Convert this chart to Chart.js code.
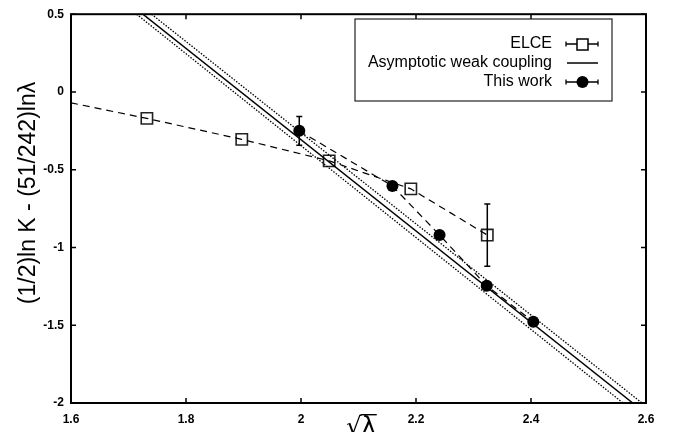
<!DOCTYPE html>
<html>
<head>
<meta charset="utf-8">
<script src="https://cdn.jsdelivr.net/npm/chart.js@4/dist/chart.umd.min.js"></script>
<style>
  html, body { margin: 0; padding: 0; background: #fff; }
  #graf { display: block; }
</style>
</head>
<body>
<canvas id="graf" width="678" height="432"></canvas>
<script>
// ELCE andmed (lahtised ruudud)
const elceX = [1.732, 1.897, 2.049, 2.191, 2.324];
const elceY = [-0.170, -0.305, -0.443, -0.623, -0.920];
const elceErr = [0, 0, 0, 0, 0.2];

// ELCE katkendjoon algab telje servast
const elceLineX = [1.6, 1.732, 1.897, 2.049, 2.191, 2.324];
const elceLineY = [-0.07, -0.170, -0.305, -0.443, -0.623, -0.920];

// Selle töö tulemused (täidetud ringid)
const thisWorkX = [1.997, 2.159, 2.241, 2.323, 2.404];
const thisWorkY = [-0.250, -0.605, -0.920, -1.246, -1.478];
const thisWorkErr = [0.093, 0, 0, 0, 0];

// Asümptootiline nõrga seose sirge ja selle vea piirid
const asymY = [0.5, -2];
const asymX = [1.725, 2.577];
const asymLowX = [1.714, 2.560];
const asymHighX = [1.740, 2.593];

// Telgede jaotused
const xTicks = [1.6, 1.8, 2, 2.2, 2.4, 2.6];
const yTicks = [-2, -1.5, -1, -0.5, 0, 0.5];

const legendLabels = ['ELCE', 'Asymptotic weak coupling', 'This work'];

function punktid(xs, ys) {
    return xs.map((x, i) => ({ x: x, y: ys[i] }));
}

const font = '"Liberation Sans", Arial, Helvetica, sans-serif';

// Veapiirid, raam, sissepoole suunatud jaotised, telgede pealkirjad ja legend
const joonistaLisad = {
    id: 'lisad',
    afterDatasetsDraw(chart) {
        const ctx = chart.ctx;
        const xs = chart.scales.x;
        const ys = chart.scales.y;
        const a = chart.chartArea;

        // vertikaalsed veapiirid
        function veapiir(xv, yv, err) {
            if (!err) return;
            const px = xs.getPixelForValue(xv);
            const y1 = ys.getPixelForValue(yv + err);
            const y2 = ys.getPixelForValue(yv - err);
            ctx.save();
            ctx.strokeStyle = '#000';
            ctx.lineWidth = 1.5;
            ctx.beginPath();
            ctx.moveTo(px, y1); ctx.lineTo(px, y2);
            ctx.moveTo(px - 3, y1); ctx.lineTo(px + 3, y1);
            ctx.moveTo(px - 3, y2); ctx.lineTo(px + 3, y2);
            ctx.stroke();
            ctx.restore();
        }
        elceX.forEach((x, i) => veapiir(x, elceY[i], elceErr[i]));
        thisWorkX.forEach((x, i) => veapiir(x, thisWorkY[i], thisWorkErr[i]));

        ctx.save();
        ctx.strokeStyle = '#000';
        // jaotised kõigil neljal küljel
        ctx.lineWidth = 1.5;
        ctx.beginPath();
        xTicks.forEach(v => {
            const px = xs.getPixelForValue(v);
            ctx.moveTo(px, a.bottom); ctx.lineTo(px, a.bottom - 5);
            ctx.moveTo(px, a.top); ctx.lineTo(px, a.top + 5);
        });
        yTicks.forEach(v => {
            const py = ys.getPixelForValue(v);
            ctx.moveTo(a.left, py); ctx.lineTo(a.left + 5, py);
            ctx.moveTo(a.right, py); ctx.lineTo(a.right - 5, py);
        });
        ctx.stroke();

        // raam
        ctx.lineWidth = 2;
        ctx.strokeRect(a.left, a.top, a.right - a.left, a.bottom - a.top);

        // legend
        const lx = 355, ly = 19, lw = 257, lh = 82;
        ctx.fillStyle = '#fff';
        ctx.fillRect(lx, ly, lw, lh);
        ctx.lineWidth = 1.2;
        ctx.strokeStyle = '#222';
        ctx.strokeRect(lx, ly, lw, lh);
        ctx.fillStyle = '#000';
        ctx.font = '16px ' + font;
        ctx.textAlign = 'right';
        ctx.textBaseline = 'middle';
        const rows = [44, 63, 82];
        legendLabels.forEach((t, i) => ctx.fillText(t, 552, rows[i]));

        ctx.strokeStyle = '#000';
        ctx.lineWidth = 1.3;
        // ELCE sümbol
        function horisontaalneViga(y) {
            ctx.beginPath();
            ctx.moveTo(566, y); ctx.lineTo(598, y);
            ctx.moveTo(566, y - 2.5); ctx.lineTo(566, y + 2.5);
            ctx.moveTo(598, y - 2.5); ctx.lineTo(598, y + 2.5);
            ctx.stroke();
        }
        horisontaalneViga(rows[0]);
        ctx.fillStyle = '#fff';
        ctx.fillRect(577, rows[0] - 5, 11, 11);
        ctx.lineWidth = 1.5;
        ctx.strokeRect(577, rows[0] - 5, 11, 11);
        // sirge sümbol
        ctx.lineWidth = 1.5;
        ctx.beginPath();
        ctx.moveTo(567, rows[1]); ctx.lineTo(598, rows[1]);
        ctx.stroke();
        // selle töö sümbol
        ctx.lineWidth = 1.3;
        horisontaalneViga(rows[2]);
        ctx.fillStyle = '#000';
        ctx.beginPath();
        ctx.arc(582.5, rows[2], 6, 0, Math.PI * 2);
        ctx.fill();

        // y-telje pealkiri
        ctx.save();
        ctx.translate(29, 193);
        ctx.rotate(-Math.PI / 2);
        ctx.textAlign = 'center';
        ctx.textBaseline = 'middle';
        ctx.font = '23px ' + font;
        ctx.fillStyle = '#000';
        ctx.fillText('(1/2)ln K - (51/242)lnλ', 0, 0);
        ctx.restore();

        // x-telje pealkiri: ruutjuur lambdast
        ctx.font = '24px "DejaVu Sans", sans-serif';
        ctx.textAlign = 'left';
        ctx.textBaseline = 'alphabetic';
        ctx.fillStyle = '#000';
        const juur = ctx.measureText('√');
        const kogu = ctx.measureText('√λ');
        const x0 = 361 - kogu.width / 2;
        const base = 434;
        ctx.fillText('√λ', x0, base);
        const topY = base - juur.actualBoundingBoxAscent;
        ctx.lineWidth = 1.4;
        ctx.beginPath();
        ctx.moveTo(x0 + juur.width - 1, topY + 0.7);
        ctx.lineTo(x0 + kogu.width + 1, topY + 0.7);
        ctx.stroke();
        ctx.restore();
    }
};

const joon = (xs, ys, extra) => Object.assign({
    data: punktid(xs, ys),
    showLine: true,
    pointRadius: 0,
    borderColor: '#000',
    fill: false
}, extra);

new Chart(document.getElementById('graf'), {
    type: 'scatter',
    data: {
        datasets: [
            joon(asymLowX, asymY, { borderWidth: 1.3, borderDash: [1.5, 1.5] }),
            joon(asymHighX, asymY, { borderWidth: 1.3, borderDash: [1.5, 1.5] }),
            joon(asymX, asymY, { borderWidth: 1.5 }),
            joon(elceLineX, elceLineY, { borderWidth: 1.2, borderDash: [7, 5] }),
            joon(thisWorkX, thisWorkY, { borderWidth: 1.2, borderDash: [7, 5] }),
            {
                data: punktid(elceX, elceY),
                pointStyle: 'rect',
                pointRadius: 8,
                pointBorderWidth: 1.6,
                pointBorderColor: '#222',
                pointBackgroundColor: 'rgba(0,0,0,0)'
            },
            {
                data: punktid(thisWorkX, thisWorkY),
                pointStyle: 'circle',
                pointRadius: 6,
                pointBorderWidth: 0,
                pointBackgroundColor: '#000'
            }
        ]
    },
    options: {
        responsive: false,
        animation: false,
        layout: { padding: { left: 0, top: 14, right: 32, bottom: 0 } },
        plugins: {
            legend: { display: false },
            tooltip: { enabled: false }
        },
        scales: {
            x: {
                type: 'linear',
                min: 1.6,
                max: 2.6,
                grid: { display: false, drawTicks: false },
                border: { display: false },
                afterBuildTicks: s => { s.ticks = xTicks.map(v => ({ value: v })); },
                afterFit: s => { s.height = 29; },
                ticks: {
                    padding: 9,
                    color: '#000',
                    font: { family: font, size: 12, weight: 'bold' },
                    callback: v => String(v)
                }
            },
            y: {
                type: 'linear',
                min: -2,
                max: 0.5,
                grid: { display: false, drawTicks: false },
                border: { display: false },
                afterBuildTicks: s => { s.ticks = yTicks.map(v => ({ value: v })); },
                afterFit: s => { s.width = 71; },
                ticks: {
                    padding: 7,
                    color: '#000',
                    font: { family: font, size: 12, weight: 'bold' },
                    callback: v => String(v)
                }
            }
        }
    },
    plugins: [joonistaLisad]
});
</script>
</body>
</html>
